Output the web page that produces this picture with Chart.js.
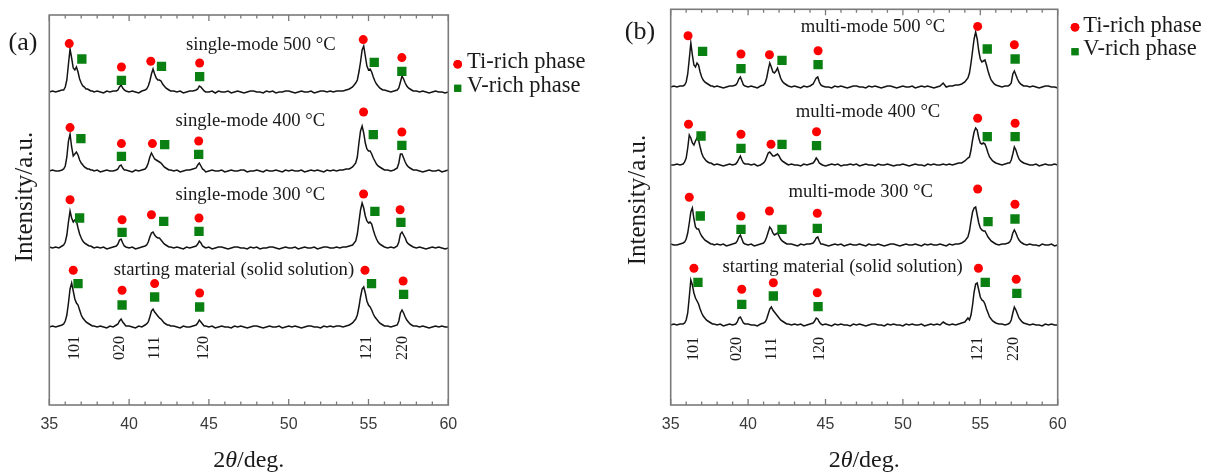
<!DOCTYPE html>
<html>
<head>
<meta charset="utf-8">
<script src="https://cdn.jsdelivr.net/npm/chart.js@4.4.0/dist/chart.umd.min.js"></script>
<style>
  html, body { margin: 0; padding: 0; background: #fff; }
  #wrap { position: relative; width: 1211px; height: 473px; }
  #wrap canvas { position: absolute; top: 0; }
</style>
</head>
<body>
<div id="wrap">
  <canvas id="chartA" width="600" height="473" style="left:0"></canvas>
  <canvas id="chartB" width="611" height="473" style="left:600px"></canvas>
</div>
<script>
// 2theta grid shared by all patterns (finer around the reflections)
const twoTheta = [
  35.0, 35.2, 35.4, 35.6, 35.8,
  35.9, 36.0, 36.1, 36.2, 36.3, 36.4, 36.5, 36.6, 36.7, 36.8, 36.9, 37.0, 37.1, 37.2, 37.3, 37.4, 37.5, 37.6, 37.7, 37.8,
  38.0, 38.2, 38.4, 38.6, 38.8, 39.0, 39.2,
  39.3, 39.4, 39.5, 39.6, 39.7, 39.8,
  40.0, 40.2, 40.4, 40.6, 40.8, 41.0,
  41.1, 41.2, 41.3, 41.4, 41.5, 41.6, 41.7, 41.8, 41.9, 42.0, 42.1, 42.2, 42.3, 42.4, 42.5, 42.6,
  42.8, 43.0, 43.2, 43.4, 43.6, 43.8, 44.0, 44.2,
  44.3, 44.4, 44.5, 44.6, 44.7,
  44.8, 45.0, 45.2, 45.4, 45.6, 45.8, 46.0, 46.2, 46.4, 46.6, 46.8, 47.0, 47.2, 47.4, 47.6, 47.8,
  48.0, 48.2, 48.4, 48.6, 48.8, 49.0, 49.2, 49.4, 49.6, 49.8, 50.0, 50.2, 50.4, 50.6, 50.8, 51.0,
  51.2, 51.4, 51.6, 51.8, 52.0, 52.2, 52.4, 52.6, 52.8, 53.0, 53.2, 53.4, 53.6, 53.8, 54.0, 54.2,
  54.3, 54.4, 54.5, 54.6, 54.7, 54.8, 54.9, 55.0, 55.1, 55.2, 55.3, 55.4, 55.5, 55.6, 55.7, 55.8, 55.9, 56.0,
  56.2, 56.4, 56.6, 56.8,
  56.9, 57.0, 57.1, 57.2, 57.3, 57.4, 57.5, 57.6, 57.7, 57.8,
  58.0, 58.2, 58.4, 58.6, 58.8, 59.0, 59.2, 59.4, 59.6, 59.8, 60.0
];

const xTicks = [35, 40, 45, 50, 55, 60];
const hklLabels = ['101', '020', '111', '120', '121', '220'];
const hklPosA = [36.6, 39.4, 41.6, 44.65, 54.88, 57.18];
const hklPosB = [36.5, 39.3, 41.56, 44.6, 54.83, 57.19];

// pattern names, bottom to top
const namesA = ['starting material (solid solution)', 'single-mode 300 °C', 'single-mode 400 °C', 'single-mode 500 °C'];
const namesB = ['starting material (solid solution)', 'multi-mode 300 °C', 'multi-mode 400 °C', 'multi-mode 500 °C'];
const phaseNames = ['Ti-rich phase', 'V-rich phase'];

// vertical offset of each pattern (a.u.), bottom to top
const offsetsA = [78, 157, 234, 313];
const offsetsB = [80, 160, 240, 318];

// ---- (a) single-mode ----
const startA = [
  0, 1, 0, 1, 2,
  3, 6, 12, 24, 38, 44, 36, 28, 24, 22, 17, 12, 9, 7, 5, 4, 3, 2, 1, 1,
  0, 1, 0, -1, 1, 0, 2,
  3, 6, 8, 5, 3, 1,
  1, 0, -1, 1, 0, 2,
  3, 5, 10, 16, 18, 15, 13, 11, 9, 8, 6, 4, 3, 2, 2, 1,
  1, 0, -1, 1, 0, 0, 1, 2,
  4, 7, 5, 3, 1,
  1, 0, 1, -1, 0, 1, 0, 0, -1, 1, 0, 1, 0, -1, 0, 1,
  1, 0, -1, 0, 1, 0, 0, 1, -1, 0, 1, 0, 1, 0, -1, 0,
  1, 1, 0, 0, -1, 1, 0, 1, 0, 1, 1, 0, 1, 2, 4, 8,
  12, 20, 30, 38, 40, 34, 26, 22, 20, 17, 13, 10, 8, 6, 4, 3, 2, 1,
  1, 0, 1, 2,
  6, 14, 17, 14, 10, 7, 5, 3, 2, 1,
  1, 0, 1, 0, -1, 0, 1, 0, 1, 0, 0
];
const single300A = [
  1, 0, 1, 0, 2,
  3, 6, 13, 26, 37, 30, 26, 28, 27, 20, 14, 10, 7, 5, 4, 3, 2, 2, 1, 0,
  1, 0, 1, -1, 0, 1, 2,
  4, 8, 9, 5, 2, 1,
  0, 1, -1, 0, 1, 2,
  3, 6, 11, 15, 16, 13, 11, 10, 10, 8, 6, 4, 3, 2, 1, 1,
  0, 1, 0, -1, 1, 0, 1, 2,
  4, 7, 5, 2, 1,
  0, 1, -1, 0, 1, 1, 0, -1, 0, 1, 1, 0, 0, -1, 1, 0,
  1, -1, 0, 0, 1, 1, 0, -1, 0, 1, 0, 0, 1, -1, 0, 1,
  0, 0, 1, -1, 0, 1, 1, 0, 0, 1, 0, 1, 1, 2, 3, 7,
  14, 26, 38, 45, 40, 32, 27, 25, 26, 24, 18, 13, 9, 6, 4, 3, 2, 1,
  0, 1, 0, 2,
  6, 14, 16, 13, 10, 6, 4, 3, 2, 1,
  0, 1, 0, -1, 0, 1, 0, 1, 0, -1, 0
];
const single400A = [
  0, 1, 0, 0, 1,
  2, 5, 14, 30, 37, 24, 15, 17, 19, 16, 11, 8, 6, 4, 3, 2, 2, 1, 1, 0,
  1, -1, 0, 1, 0, 0, 1,
  2, 5, 6, 3, 1, 1,
  0, -1, 1, 0, 1, 2,
  4, 8, 14, 18, 15, 12, 11, 10, 9, 8, 6, 4, 3, 2, 1, 1,
  0, 1, -1, 0, 1, 1, 2, 3,
  6, 8, 5, 2, 1,
  -1, 0, 1, 0, 0, 1, -1, 0, 1, 0, 0, 1, 1, -1, 0, 0,
  1, 0, -1, 1, 0, 0, 1, 0, -1, 1, 0, 1, 0, 0, 1, -1,
  0, 1, 0, 1, 0, -1, 1, 0, 1, 0, 1, 1, 2, 2, 4, 8,
  14, 28, 40, 45, 38, 28, 22, 20, 20, 17, 13, 10, 7, 5, 4, 3, 2, 1,
  1, 0, 1, 3,
  8, 17, 17, 13, 9, 6, 4, 3, 2, 1,
  1, 0, -1, 0, 1, 0, 0, 1, -1, 0, 1
];
const single500A = [
  0, 1, 0, 1, 2,
  2, 5, 12, 28, 43, 34, 24, 22, 25, 20, 13, 9, 6, 5, 3, 3, 2, 1, 1, 0,
  1, 0, -1, 1, 0, 1, 1,
  2, 5, 7, 4, 2, 1,
  0, 1, 0, -1, 1, 2,
  3, 6, 11, 18, 23, 18, 14, 12, 12, 11, 8, 6, 4, 3, 2, 1,
  1, 0, 1, -1, 0, 1, 1, 2,
  3, 6, 5, 3, 1,
  0, 0, 1, -1, 1, 0, 0, 1, -1, 0, 1, 0, -1, 0, 1, 1,
  0, 0, -1, 1, 0, 1, -1, 0, 0, 1, 1, 0, -1, 0, 1, 0,
  0, 1, -1, 0, 1, 1, 0, 1, 0, 1, 1, 1, 2, 3, 5, 9,
  12, 20, 30, 42, 46, 36, 26, 22, 23, 20, 15, 11, 8, 6, 4, 3, 2, 2,
  1, 0, 1, 2,
  4, 10, 16, 13, 9, 6, 4, 3, 2, 1,
  1, 0, 1, 0, -1, 0, 1, 0, 0, -1, 0
];

// phase markers [2theta, height above the pattern baseline]
const tiStartA = [[36.5, 56.7], [39.56, 36.7], [41.6, 43.4], [44.42, 34], [54.78, 56.7], [57.17, 46]];
const vStartA = [[36.8, 43.4], [39.56, 22], [41.6, 30], [44.42, 20], [55.19, 43.4], [57.2, 32.7]];
const ti300A = [[36.3, 48.3], [39.56, 28.3], [41.4, 33.3], [44.38, 30], [54.69, 54], [56.98, 38.3]];
const v300A = [[36.9, 30], [39.56, 15.6], [42.17, 26.6], [44.38, 16.6], [55.4, 36.6], [57.03, 25.6]];
const ti400A = [[36.3, 43.4], [39.52, 27.4], [41.46, 27.4], [44.36, 30], [54.69, 59], [57.09, 39]];
const v400A = [[36.98, 32.4], [39.52, 14.7], [42.23, 26.4], [44.36, 16.7], [55.3, 36.4], [57.09, 25.7]];
const ti500A = [[36.25, 48.4], [39.52, 25], [41.36, 30.7], [44.42, 29], [54.67, 52.4], [57.09, 34.4]];
const v500A = [[37.04, 33], [39.52, 11.7], [42.03, 25.7], [44.42, 15.4], [55.36, 29.7], [57.09, 20.7]];

// ---- (b) multi-mode ----
const startB = [
  0, 1, 0, 1, 1,
  2, 5, 12, 28, 45, 40, 32, 27, 24, 21, 16, 12, 9, 7, 5, 4, 3, 2, 1, 1,
  0, 1, -1, 0, 1, 0, 1,
  3, 7, 8, 5, 2, 1,
  1, 0, 0, -1, 1, 2,
  3, 6, 11, 16, 18, 15, 13, 11, 9, 7, 5, 4, 3, 2, 1, 1,
  0, 1, 0, 1, -1, 0, 1, 2,
  4, 7, 6, 3, 1,
  0, 1, 0, -1, 1, 0, 1, 0, 0, -1, 1, 0, 1, 0, -1, 0,
  1, 1, 0, 0, -1, 1, 0, 1, 0, 0, -1, 1, 0, 1, 0, 0,
  1, -1, 0, 1, 0, 1, 0, 3, 1, 0, 1, 0, 1, 2, 3, 7,
  5, 10, 20, 33, 41, 42, 35, 28, 25, 24, 21, 16, 12, 8, 6, 4, 3, 2,
  1, 1, 0, 1,
  2, 5, 12, 18, 15, 11, 7, 5, 3, 2,
  1, 0, 1, 0, 0, -1, 1, 0, 1, 0, 0
];
const multi300B = [
  1, 0, 0, 1, 2,
  3, 6, 12, 22, 33, 37, 26, 18, 16, 16, 12, 9, 7, 5, 4, 3, 2, 1, 1, 0,
  1, 0, 1, -1, 0, 1, 2,
  4, 8, 10, 6, 2, 1,
  0, 1, -1, 0, 1, 2,
  4, 8, 13, 18, 16, 12, 10, 11, 12, 9, 6, 4, 3, 2, 1, 1,
  1, 0, -1, 1, 0, 1, 1, 2,
  4, 7, 8, 4, 1,
  1, 0, -1, 0, 1, 0, 1, -1, 0, 1, 0, 0, 1, 0, -1, 1,
  0, 0, 1, 0, -1, 0, 1, 1, 0, -1, 0, 1, 0, 0, 1, 0,
  -1, 1, 0, 1, 0, 0, 1, 0, -1, 1, 0, 1, 1, 2, 4, 8,
  14, 24, 33, 37, 38, 30, 22, 17, 15, 14, 14, 11, 8, 6, 4, 3, 2, 1,
  0, 1, 1, 2,
  3, 6, 12, 15, 12, 8, 5, 3, 2, 1,
  0, 1, 0, 0, -1, 1, 0, 0, 1, -1, 0
];
const multi400B = [
  0, 0, 1, 0, 1,
  3, 7, 17, 30, 27, 22, 20, 24, 27, 25, 18, 12, 8, 6, 4, 3, 2, 2, 1, 0,
  1, 0, -1, 0, 1, 0, 1,
  3, 6, 9, 5, 2, 1,
  1, 0, 1, -1, 0, 2,
  4, 8, 12, 13, 11, 9, 9, 10, 11, 9, 6, 4, 3, 2, 1, 0,
  1, 0, 0, -1, 1, 0, 1, 2,
  4, 7, 5, 2, 1,
  0, -1, 0, 1, 0, 1, -1, 0, 0, 1, 0, 1, -1, 0, 1, 0,
  0, -1, 1, 0, 0, 1, 0, -1, 0, 0, 1, 0, -1, 0, 1, 0,
  0, -1, 1, 0, 1, 0, 0, 1, 0, 1, 0, 1, 2, 2, 4, 7,
  8, 15, 25, 33, 37, 35, 27, 22, 21, 22, 21, 17, 12, 8, 6, 4, 3, 2,
  1, 0, 1, 2,
  2, 5, 11, 18, 15, 10, 6, 4, 3, 2,
  1, 0, 0, 1, -1, 0, 1, 0, 0, 1, 0
];
const multi500B = [
  0, 1, 0, 1, 1,
  2, 5, 13, 28, 44, 32, 22, 20, 24, 22, 15, 10, 7, 5, 4, 3, 2, 1, 1, 0,
  1, 0, -1, 0, 1, 1, 2,
  4, 8, 10, 6, 2, 1,
  0, 1, 0, -1, 1, 2,
  4, 9, 17, 24, 20, 15, 14, 16, 19, 14, 9, 6, 4, 3, 2, 1,
  0, 1, 0, -1, 1, 0, 1, 3,
  6, 9, 10, 5, 2,
  1, 0, 0, -1, 1, 0, 1, 0, -1, 0, 1, 1, 0, 0, -1, 1,
  0, 1, 0, -1, 0, 1, 1, 0, -1, 0, 1, 0, 0, 1, -1, 0,
  1, 0, 1, 0, -1, 0, 1, 4, 0, 1, 1, 2, 2, 3, 5, 9,
  14, 24, 36, 48, 55, 48, 36, 28, 25, 26, 27, 22, 16, 11, 7, 5, 3, 2,
  1, 0, 1, 1,
  2, 4, 13, 16, 12, 8, 5, 3, 2, 1,
  1, 0, 1, 0, -1, 0, 1, 1, 0, 0, -1
];

const tiStartB = [[36.5, 56.7], [39.59, 35.7], [41.63, 42.3], [44.47, 32.3], [54.88, 56.7], [57.32, 45.7]];
const vStartB = [[36.76, 42.7], [39.59, 20.7], [41.63, 29], [44.52, 18.3], [55.32, 42.7], [57.36, 31.7]];
const ti300B = [[36.2, 47.7], [39.54, 29], [41.38, 34], [44.47, 31.7], [54.83, 56], [57.24, 40.7]];
const v300B = [[36.91, 29], [39.54, 15.7], [42.19, 15.7], [44.47, 16.7], [55.5, 23.3], [57.24, 26]];
const ti400B = [[36.15, 40.7], [39.54, 30.7], [41.48, 20.7], [44.42, 33.3], [54.83, 46.7], [57.25, 41.7]];
const v400B = [[36.96, 29], [39.54, 16.7], [42.19, 20.7], [44.42, 19.3], [55.45, 28.3], [57.25, 28.3]];
const ti500B = [[36.12, 51.3], [39.54, 33], [41.38, 32.3], [44.52, 36.3], [54.83, 60.6], [57.2, 42.3]];
const v500B = [[37.06, 35.6], [39.54, 18.3], [42.19, 26.6], [44.52, 22.3], [55.45, 38], [57.25, 28]];

// ---- layout (positions and sizes only) ----
const SERIF = '"Liberation Serif", "Times New Roman", serif';
const SANS = '"Liberation Sans", Arial, sans-serif';
const RED = '#ff0000';
const GREEN = '#0b8012';

const panels = [
  {
    canvas: 'chartA', tag: '(a)',
    traces: [startA, single300A, single400A, single500A],
    offsets: offsetsA, names: namesA,
    ti: [tiStartA, ti300A, ti400A, ti500A],
    v: [vStartA, v300A, v400A, v500A],
    hkl: hklPosA,
    padding: {left: 49.3, top: 15, right: 151.7, bottom: 0}, yMax: 390,
    namePos: [[46.57, 130], [47.6, 205], [47.6, 279.3], [48.25, 355.5]],
    hklY: 57, tagXY: [23, 43], yTitle: [25, 197],
    legend: {mx: 457.7, my: [64.3, 88.3], tx: 467, ty: [68.3, 91.7]}
  },
  {
    canvas: 'chartB', tag: '(b)',
    traces: [startB, multi300B, multi400B, multi500B],
    offsets: offsetsB, names: namesB,
    ti: [tiStartB, ti300B, ti400B, ti500B],
    v: [vStartB, v300B, v400B, v500B],
    hkl: hklPosB,
    padding: {left: 70.7, top: 9.3, right: 153.3, bottom: 0}, yMax: 395.7,
    namePos: [[46.11, 132.7], [47.27, 207.7], [47.75, 287.7], [48.07, 372.7]],
    hklY: 56, tagXY: [40, 32], yTitle: [38, 200],
    legend: {mx: 475, my: [27.3, 51.7], tx: 483.3, ty: [31.7, 55]}
  }
];

function buildDatasets(p) {
  const sets = [];
  p.ti.forEach((m, i) => sets.push({
    data: m.map(([t, h]) => ({x: t, y: h + p.offsets[i]})),
    pointStyle: 'circle', pointRadius: 4.5, backgroundColor: RED, borderWidth: 0, order: 1
  }));
  p.v.forEach((m, i) => sets.push({
    data: m.map(([t, h]) => ({x: t, y: h + p.offsets[i]})),
    pointStyle: 'rect', pointRadius: 6.6, backgroundColor: GREEN, borderWidth: 0, order: 1
  }));
  p.traces.forEach((tr, i) => {
    if (tr.length !== twoTheta.length) throw new Error(p.canvas + ' trace ' + i + ' has ' + tr.length + ' points');
    sets.push({
      data: twoTheta.map((t, k) => ({x: t, y: tr[k] + p.offsets[i]})),
      showLine: true, borderColor: '#141414', borderWidth: 1.5, pointRadius: 0, order: 2
    });
  });
  return sets;
}

function decorPlugin(p) {
  return {
    id: 'decor',
    afterDatasetsDraw(chart) {
      const {ctx, chartArea: a} = chart;
      const xs = chart.scales.x, ys = chart.scales.y;
      ctx.save();

      // frame and inward ticks (top and bottom)
      ctx.strokeStyle = '#7a7a7a';
      ctx.lineWidth = 1.6;
      ctx.strokeRect(a.left, a.top, a.width, a.height);
      ctx.lineWidth = 1.3;
      ctx.beginPath();
      xs.ticks.forEach(t => {
        const px = xs.getPixelForValue(t.value);
        const len = xTicks.includes(t.value) ? 6 : 3.5;
        ctx.moveTo(px, a.bottom); ctx.lineTo(px, a.bottom - len);
        ctx.moveTo(px, a.top); ctx.lineTo(px, a.top + len);
      });
      ctx.stroke();

      ctx.fillStyle = '#1a1a1a';
      // pattern names
      ctx.font = '18.7px ' + SERIF;
      ctx.textAlign = 'center';
      ctx.textBaseline = 'alphabetic';
      p.names.forEach((n, i) => {
        const [t, h] = p.namePos[i];
        ctx.fillText(n, xs.getPixelForValue(t), ys.getPixelForValue(h));
      });

      // hkl indices, rotated
      ctx.font = '16px ' + SERIF;
      ctx.textBaseline = 'middle';
      hklLabels.forEach((lab, i) => {
        ctx.save();
        ctx.translate(xs.getPixelForValue(p.hkl[i]), ys.getPixelForValue(p.hklY));
        ctx.rotate(-Math.PI / 2);
        ctx.fillText(lab, 0, 0);
        ctx.restore();
      });

      // panel tag
      ctx.font = '26px ' + SERIF;
      ctx.fillText(p.tag, p.tagXY[0], p.tagXY[1]);

      // y title
      ctx.save();
      ctx.font = '25px ' + SERIF;
      ctx.translate(p.yTitle[0], p.yTitle[1]);
      ctx.rotate(-Math.PI / 2);
      ctx.fillText('Intensity/a.u.', 0, 0);
      ctx.restore();

      // x title: 2θ/deg. with italic theta
      const parts = [['2', ''], ['θ', 'italic '], ['/deg.', '']];
      let w = 0;
      parts.forEach(([s, st]) => { ctx.font = st + '24px ' + SERIF; w += ctx.measureText(s).width; });
      let x0 = (a.left + a.right) / 2 - w / 2;
      ctx.textAlign = 'left';
      ctx.textBaseline = 'alphabetic';
      parts.forEach(([s, st]) => {
        ctx.font = st + '24px ' + SERIF;
        ctx.fillText(s, x0, 467);
        x0 += ctx.measureText(s).width;
      });

      // legend
      const L = p.legend;
      const drawPoint = Chart.helpers.drawPoint;
      ctx.fillStyle = RED;
      drawPoint(ctx, {pointStyle: 'circle', radius: 4.3, borderWidth: 0}, L.mx, L.my[0]);
      ctx.fill();
      ctx.fillStyle = GREEN;
      drawPoint(ctx, {pointStyle: 'rect', radius: 5, borderWidth: 0}, L.mx, L.my[1]);
      ctx.fill();
      ctx.fillStyle = '#1a1a1a';
      ctx.font = '22.5px ' + SERIF;
      phaseNames.forEach((n, i) => ctx.fillText(n, L.tx, L.ty[i]));

      ctx.restore();
    }
  };
}

panels.forEach(p => {
  new Chart(document.getElementById(p.canvas), {
    type: 'scatter',
    data: {datasets: buildDatasets(p)},
    options: {
      responsive: false,
      animation: false,
      devicePixelRatio: 1,
      events: [],
      layout: {padding: p.padding},
      plugins: {legend: {display: false}, tooltip: {enabled: false}},
      scales: {
        x: {
          type: 'linear', min: 35, max: 60,
          afterFit: s => { s.height = 68; },
          grid: {display: false, drawTicks: false},
          border: {display: false},
          ticks: {
            stepSize: 1, autoSkip: false, maxRotation: 0, padding: 10,
            color: '#3a3a3a', font: {family: SANS, size: 16},
            callback: v => xTicks.includes(v) ? String(v) : ''
          }
        },
        y: {display: false, min: 0, max: p.yMax}
      }
    },
    plugins: [decorPlugin(p)]
  });
});
</script>
</body>
</html>
